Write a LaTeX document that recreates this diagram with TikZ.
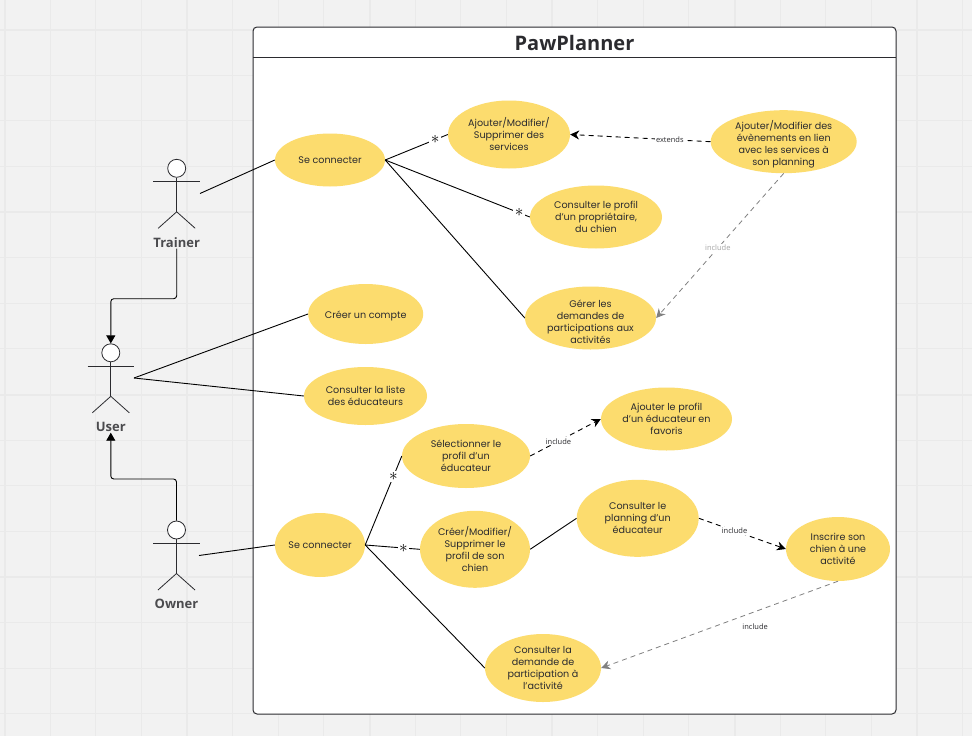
\documentclass[tikz,border=0pt]{standalone}
\usepackage{fontspec}
\usepackage{xcolor}
\setmainfont{Poppins}
\newfontfamily\labelfont{Open Sans}
\usetikzlibrary{shapes.geometric,arrows.meta}
\definecolor{pagebg}{HTML}{F2F2F2}
\definecolor{gridline}{HTML}{EAEAEA}
\definecolor{caseyellow}{HTML}{FCDC6E}
\definecolor{inkdark}{HTML}{2B2B2F}
\tikzset{
    usecase/.style={ellipse, fill=caseyellow, text=inkdark, align=center, inner sep=-12pt, font=\fontsize{9.6}{12}\selectfont, execute at begin node={\rule{0pt}{10.5pt}}},
    raised/.style={execute at end node={\rule[-3pt]{0pt}{0pt}}},
    actorlabel/.style={text=inkdark!85, inner sep=1pt, font=\labelfont\bfseries\fontsize{13}{15}\selectfont},
    assoc/.style={black, line width=0.9pt},
    depend/.style={black, dash pattern=on 5pt off 4pt, line width=0.9pt, -{Stealth[length=9pt,width=9pt]}},
    dependgray/.style={gray, dash pattern=on 5pt off 4pt, line width=0.8pt, -{Stealth[length=9pt,width=9pt]}},
    generalize/.style={black, line width=0.9pt, rounded corners=3pt, -{Triangle[length=8pt,width=9pt]}},
    stereotype/.style={inner sep=1pt, font=\labelfont\fontsize{7.5}{9}\selectfont},
    multiplicity/.style={fill=white, inner sep=1.5pt, font=\fontsize{17}{17}\selectfont}
}
\begin{document}
\begin{tikzpicture}[x=1pt,y=-1pt]
    \useasboundingbox (0,0) rectangle (972,736);

    % Draw background grid
    \fill[pagebg] (0,0) rectangle (972,736);
    \foreach \k in {0,...,21} {
        \draw[gridline, line width=1pt] ({4.5+45.625*\k},0) -- ({4.5+45.625*\k},736);
    }
    \foreach \k in {0,...,16} {
        \draw[gridline, line width=1pt] (0,{29.5+45.625*\k-45.625}) -- (972,{29.5+45.625*\k-45.625});
    }
    \foreach \k in {0,...,5} {
        \draw[gridline, line width=2pt] ({4.5+182.5*\k},0) -- ({4.5+182.5*\k},736);
    }
    \foreach \k in {0,...,3} {
        \draw[gridline, line width=2pt] (0,{29.5+182.5*\k}) -- (972,{29.5+182.5*\k});
    }

    % Draw system frame
    \draw[fill=white, draw=inkdark, line width=1pt, rounded corners=4pt] (253,27) rectangle (896,714);
    \draw[inkdark, line width=1pt] (253,57) -- (896,57);
    \node[text=inkdark, inner sep=0pt, font=\labelfont\bfseries\fontsize{20}{24}\selectfont] (title) at (574.5,43) {PawPlanner};

    % Draw actors
    \foreach \name/\label/\x/\y in {trainer/Trainer/176.7/168.3, user/User/110.8/352.8, owner/Owner/176.5/530} {
        \node[circle, draw=inkdark, fill=white, line width=0.8pt, minimum size=18pt, inner sep=0pt] (head\name) at (\x,\y) {};
        \draw[inkdark, line width=0.8pt] (head\name.south) -- (\x,\y+43.5);
        \draw[inkdark, line width=0.8pt] (\x-23.3,\y+13.5) -- (\x+23.3,\y+13.5);
        \draw[inkdark, line width=0.8pt] (\x-18.5,\y+60) -- (\x,\y+43.5) -- (\x+18.5,\y+60);
        \node[actorlabel] (\name) at (\x,\y+74) {\label};
    }
    \coordinate (handtrainer) at (200,193.5);
    \coordinate (handuser) at (134,378);
    \coordinate (handowner) at (199,555.5);
    \coordinate (bendtrainer) at (110.8,298.7);
    \coordinate (bendowner) at (110.8,479);

    % Draw use cases
    \node[usecase, raised, minimum width=110pt, minimum height=53pt] (loginA) at (330,160) {Se connecter};
    \node[usecase, minimum width=122pt, minimum height=68pt] (services) at (509,134.5) {Ajouter/Modifier/\\Supprimer des\\services};
    \node[usecase, minimum width=132pt, minimum height=63pt] (profile) at (596,217) {Consulter le profil\\d'un propriétaire,\\du chien};
    \node[usecase, minimum width=131pt, minimum height=63pt] (requests) at (590.5,318) {\rule{0pt}{15pt}Gérer les\\demandes de\\participations aux\\activités};
    \node[usecase, minimum width=146pt, minimum height=63pt] (events) at (783.7,141.7) {\rule{0pt}{14pt}Ajouter/Modifier des\\évènements en lien\\avec les services à\\son planning};
    \node[usecase, minimum width=115pt, minimum height=60pt] (account) at (365.7,314) {Créer un compte};
    \node[usecase, minimum width=123pt, minimum height=58pt] (trainers) at (365.5,396) {Consulter la liste\\des éducateurs};
    \node[usecase, raised, minimum width=90pt, minimum height=64pt] (loginB) at (320,545) {Se connecter};
    \node[usecase, minimum width=128pt, minimum height=64pt] (select) at (466,456) {Sélectionner le\\profil d'un\\éducateur};
    \node[usecase, minimum width=131pt, minimum height=63pt] (favorite) at (666.5,419) {Ajouter le profil\\d'un éducateur en\\favoris};
    \node[usecase, minimum width=110pt, minimum height=77pt] (dogprofile) at (475,549.3) {Créer/Modifier/\\Supprimer le\\profil de son\\chien};
    \node[usecase, minimum width=122pt, minimum height=77pt] (planning) at (637.7,518.3) {Consulter le\\planning d'un\\éducateur};
    \node[usecase, minimum width=104pt, minimum height=64pt] (enroll) at (838,549) {Inscrire son\\chien à une\\activité};
    \node[usecase, minimum width=116pt, minimum height=68pt] (demand) at (543,668) {Consulter la\\demande de\\participation à\\l'activité};

    % Draw generalizations
    \draw[generalize] (trainer.south) |- (bendtrainer) -- (headuser.north);
    \draw[generalize] (headowner.north) |- (bendowner) -- (user.south);

    % Draw associations
    \draw[assoc] (handtrainer) -- (loginA.west);
    \draw[assoc] (handuser) -- (account.west);
    \draw[assoc] (handuser) -- (trainers.west);
    \draw[assoc] (handowner) -- (loginB.west);
    \draw[assoc] (loginA.east) -- (services.west) node[multiplicity, pos=0.8] (starA) {$\ast$};
    \draw[assoc] (loginA.east) -- (profile.west) node[multiplicity, pos=0.926] (starB) {$\ast$};
    \draw[assoc] (loginA.east) -- (requests.west);
    \draw[assoc] (loginB.east) -- (select.west) node[multiplicity, pos=0.77] (starC) {$\ast$};
    \draw[assoc] (loginB.east) -- (dogprofile.west) node[multiplicity, pos=0.7] (starD) {$\ast$};
    \draw[assoc] (loginB.east) -- (demand.west);
    \draw[assoc] (dogprofile.east) -- (planning.west);

    % Draw dependencies
    \draw[depend] (events.west) -- (services.east) node[stereotype, fill=white, pos=0.29, text=inkdark] (extendsA) {extends};
    \draw[dependgray] (events.south) -- (requests.east) node[stereotype, fill=white, pos=0.517, text=gray!70] (includeA) {include};
    \draw[depend] (select.east) -- (favorite.west) node[stereotype, fill=white, pos=0.4, text=inkdark] (includeB) {include};
    \draw[depend] (planning.east) -- (enroll.west) node[stereotype, fill=white, pos=0.41, text=inkdark] (includeC) {include};
    \draw[dependgray] (enroll.south) -- (demand.east) node[stereotype, pos=0.35, below, yshift=-11pt, text=inkdark] (includeD) {include};
\end{tikzpicture}
\end{document}
